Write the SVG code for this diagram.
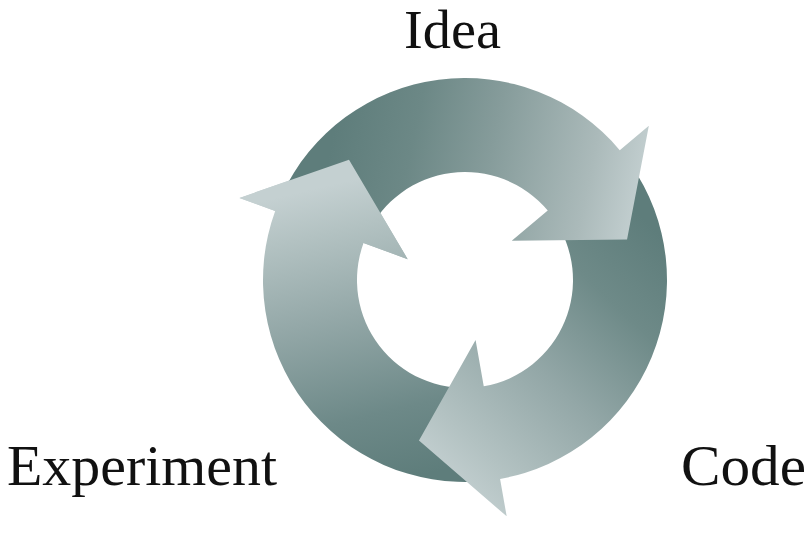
<svg xmlns="http://www.w3.org/2000/svg" xmlns:xlink="http://www.w3.org/1999/xlink" width="811" height="553" viewBox="0 0 811 553">
  <style>
    .label { font-family: "Liberation Serif", "Times New Roman", serif; font-size: 56px; fill: #111111; }
  </style>
  <defs>
    <linearGradient id="g1" gradientUnits="userSpaceOnUse" x1="330" y1="150" x2="640" y2="215">
      <stop offset="0" stop-color="#5e7d7b"/>
      <stop offset="0.25" stop-color="#6c8886"/>
      <stop offset="0.5" stop-color="#869c9b"/>
      <stop offset="0.82" stop-color="#abbaba"/>
      <stop offset="1" stop-color="#c4d0d1"/>
    </linearGradient>
    <linearGradient id="g2" gradientUnits="userSpaceOnUse" x1="655" y1="230" x2="430" y2="470">
      <stop offset="0" stop-color="#5e7d7b"/>
      <stop offset="0.25" stop-color="#6e8a88"/>
      <stop offset="0.55" stop-color="#93a7a7"/>
      <stop offset="0.85" stop-color="#b3c2c2"/>
      <stop offset="1" stop-color="#c4d0d1"/>
    </linearGradient>
    <linearGradient id="g3" gradientUnits="userSpaceOnUse" x1="400" y1="480" x2="330" y2="185">
      <stop offset="0" stop-color="#5e7d7b"/>
      <stop offset="0.23" stop-color="#6d8988"/>
      <stop offset="0.57" stop-color="#94a8a8"/>
      <stop offset="0.85" stop-color="#b3c2c2"/>
      <stop offset="1" stop-color="#c4d0d1"/>
    </linearGradient>
  </defs>

  <g id="connectors">
    <!-- Experiment -> Idea (left arrow) -->
    <path id="arrow-experiment-idea" fill="url(#g3)" d="M482.61,481.23 A202,202 0 0 1 275.18,210.91 L239.47,197.92 L348.99,159.87 L407.68,259.14 L363.51,243.06 A108,108 0 0 0 474.41,387.59 Z"/>
    <!-- Code -> Experiment (bottom-right arrow) -->
    <path id="arrow-code-experiment" fill="url(#g2)" d="M630.47,164.14 A202,202 0 0 1 500.08,478.93 L506.68,516.35 L418.97,440.53 L475.59,340.07 L483.75,386.36 A108,108 0 0 0 553.47,218.05 Z"/>
    <!-- Idea -> Code (top arrow) -->
    <path id="arrow-idea-code" fill="url(#g1)" d="M281.93,194.63 A202,202 0 0 1 619.74,150.15 L648.85,125.73 L627.04,239.60 L511.73,240.79 L547.73,210.58 A108,108 0 0 0 367.12,234.36 Z"/>
    <!-- head of left arrow drawn again so it overlaps the top arrow's tail -->
    <path id="arrow-experiment-idea-head" fill="url(#g3)" d="M275.18,210.91 L239.47,197.92 L348.99,159.87 L407.68,259.14 L363.51,243.06 Z"/>
  </g>

  <g id="node-idea">
    <text class="label" x="404" y="48" font-size="54" style="font-size:54px" textLength="97" lengthAdjust="spacingAndGlyphs">Idea</text>
  </g>
  <g id="node-code">
    <text class="label" x="681" y="485" textLength="125" lengthAdjust="spacingAndGlyphs">Code</text>
  </g>
  <g id="node-experiment">
    <text class="label" x="7" y="485" textLength="270" lengthAdjust="spacingAndGlyphs">Experiment</text>
  </g>
</svg>
